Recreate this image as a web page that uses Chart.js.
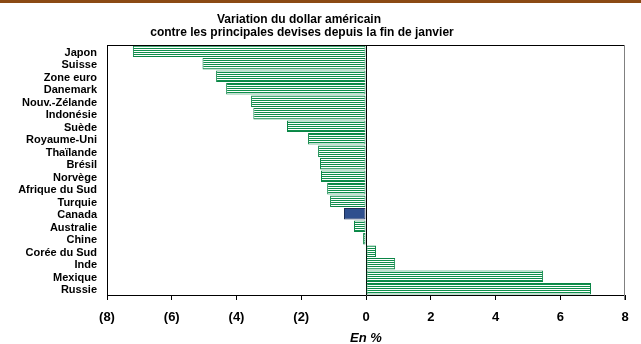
<!DOCTYPE html>
<html>
<head>
<meta charset="utf-8">
<script src="https://cdn.jsdelivr.net/npm/chart.js@4/dist/chart.umd.min.js"></script>
<style>
  html, body { margin: 0; padding: 0; background: #fff; }
  #wrap { position: relative; width: 641px; height: 344px; }
</style>
</head>
<body>
<div id="wrap"><canvas id="chart"></canvas></div>
<script>
const countries = ['Japon', 'Suisse', 'Zone euro', 'Danemark', 'Nouv.-Zélande', 'Indonésie', 'Suède',
  'Royaume-Uni', 'Thaïlande', 'Brésil', 'Norvège', 'Afrique du Sud', 'Turquie', 'Canada',
  'Australie', 'Chine', 'Corée du Sud', 'Inde', 'Mexique', 'Russie']
const changes = [-7.2, -5.05, -4.63, -4.32, -3.55, -3.48, -2.44, -1.79, -1.48, -1.42, -1.39,
  -1.2, -1.11, -0.68, -0.37, -0.09, 0.31, 0.9, 5.47, 6.95]
const xTicks = [-8, -6, -4, -2, 0, 2, 4, 6, 8]
const titleLines = ['Variation du dollar américain', 'contre les principales devises depuis la fin de janvier']
const highlight = 'Canada'

const FONT = "'Liberation Sans', Arial, sans-serif"

// horizontal stripes like the original bars
function stripes() {
  const c = document.createElement('canvas')
  c.width = 4
  c.height = 2
  const g = c.getContext('2d')
  g.fillStyle = '#ffffff'
  g.fillRect(0, 0, 4, 2)
  g.fillStyle = '#0f8f4c'
  g.fillRect(0, 0, 4, 1)
  return g.createPattern(c, 'repeat')
}
const stripe = stripes()

const decor = {
  id: 'decor',
  beforeDraw(chart) {
    const ctx = chart.ctx
    ctx.save()
    ctx.fillStyle = '#8b4a14'
    ctx.fillRect(0, 0, chart.width, 3)
    ctx.fillStyle = '#000'
    ctx.font = 'bold 12px ' + FONT
    ctx.textAlign = 'center'
    ctx.textBaseline = 'middle'
    ctx.fillText(titleLines[0], 299, 20)
    ctx.fillText(titleLines[1], 302, 33)
    ctx.restore()
  },
  afterDraw(chart) {
    const { ctx, chartArea: a } = chart
    ctx.save()
    ctx.lineWidth = 1
    ctx.strokeStyle = '#000'
    ctx.beginPath()
    ctx.moveTo(a.left, a.top + 0.5)
    ctx.lineTo(a.right, a.top + 0.5)
    ctx.stroke()
    ctx.strokeStyle = '#808080'
    ctx.beginPath()
    ctx.moveTo(a.right - 0.5, a.top)
    ctx.lineTo(a.right - 0.5, a.bottom + 5)
    ctx.stroke()
    ctx.restore()
  }
}

new Chart(document.getElementById('chart'), {
  type: 'bar',
  data: {
    labels: countries,
    datasets: [{
      data: changes,
      backgroundColor: countries.map((c) => c === highlight ? '#2f4f8e' : stripe),
      borderColor: countries.map((c) => c === highlight ? '#1c2d55' : '#0b8546'),
      borderWidth: 1,
      borderSkipped: false,
      barPercentage: 0.92,
      categoryPercentage: 1,
    }],
  },
  options: {
    indexAxis: 'y',
    responsive: true,
    maintainAspectRatio: false,
    animation: false,
    layout: { padding: { top: 45, right: 16, left: 0, bottom: 0 } },
    plugins: {
      legend: { display: false },
      title: { display: false },
      tooltip: { enabled: false },
    },
    scales: {
      x: {
        min: -8,
        max: 8,
        afterBuildTicks: (axis) => { axis.ticks = xTicks.map((v) => ({ value: v })) },
        afterFit: (axis) => { axis.height = 49 },
        border: { color: '#000', width: 1 },
        grid: {
          color: (ctx) => ctx.tick && ctx.tick.value === 0 ? '#000' : 'rgba(0,0,0,0)',
          tickColor: '#000',
          tickLength: 5,
        },
        ticks: {
          color: '#000',
          padding: 10,
          font: { family: FONT, size: 13, weight: 'bold' },
          callback: (v) => v < 0 ? `(${-v})` : `${v}`,
        },
        title: {
          display: true,
          text: 'En %',
          color: '#000',
          padding: { top: 0, bottom: -1 },
          font: { family: FONT, size: 13, weight: 'bold', style: 'italic', lineHeight: 1 },
        },
      },
      y: {
        afterFit: (axis) => { axis.width = 107 },
        border: { color: '#000', width: 1 },
        grid: { display: false, drawTicks: false },
        ticks: {
          color: '#000',
          padding: 10,
          labelOffset: 1.5,
          autoSkip: false,
          font: { family: FONT, size: 11, weight: 'bold' },
        },
      },
    },
  },
  plugins: [decor],
})
</script>
</body>
</html>
